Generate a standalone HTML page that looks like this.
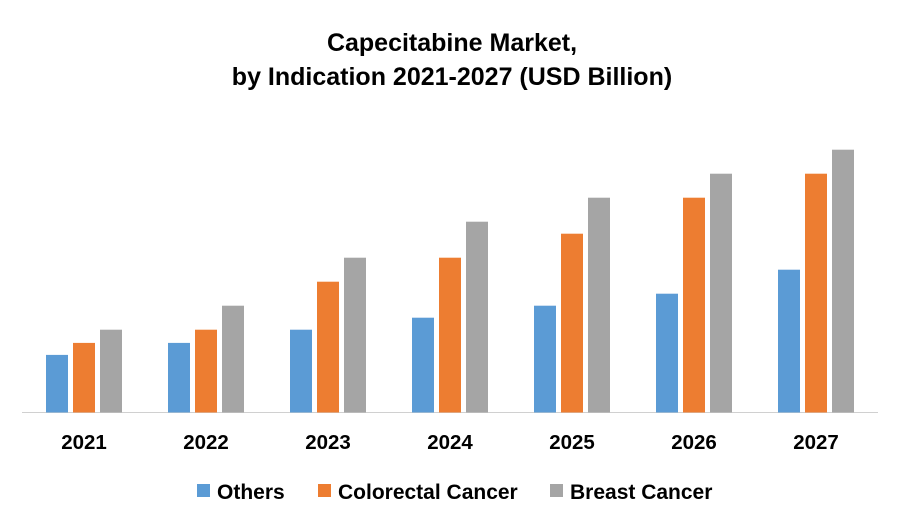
<!DOCTYPE html>
<html><head><meta charset="utf-8"><style>
body{margin:0;background:#fff;font-family:"Liberation Sans",sans-serif;}
svg text{font-family:"Liberation Sans",sans-serif;font-weight:bold;fill:#000;}
</style></head><body>
<svg id="chart" width="900" height="525" xmlns="http://www.w3.org/2000/svg">
<text x="452" y="51" text-anchor="middle" font-size="25">Capecitabine Market,</text>
<text x="452" y="85" text-anchor="middle" font-size="25">by Indication 2021-2027 (USD Billion)</text>
<line x1="22" y1="412.5" x2="878" y2="412.5" stroke="#d0d0d0" stroke-width="1"/>
<g id="bars"></g>
<g id="xlabels"></g>
<g id="legend"></g>
</svg>
<script>
const categories = ["2021","2022","2023","2024","2025","2026","2027"];
const seriesNames = ["Others","Colorectal Cancer","Breast Cancer"];
const others = [4.8,5.8,6.9,7.9,8.9,9.9,11.9];
const colorectal = [5.8,6.9,10.9,12.9,14.9,17.9,19.9];
const breast = [6.9,8.9,12.9,15.9,17.9,19.9,21.9];
const colors = ["#5b9bd5","#ed7d31","#a5a5a5"];
const series=[others,colorectal,breast];
const base=412.5, pxPerUnit=12;
function yScale(v){return base - v*pxPerUnit;}
function xCenter(i){return 84 + i*122;}
const ns="http://www.w3.org/2000/svg";
const bars=document.getElementById('bars');
series.forEach((s,si)=>{s.forEach((v,i)=>{
  const r=document.createElementNS(ns,'rect');
  r.setAttribute('x',xCenter(i)-38+si*27);
  r.setAttribute('y',yScale(v));
  r.setAttribute('width',22);
  r.setAttribute('height',base-yScale(v));
  r.setAttribute('fill',colors[si]);
  
  
  bars.appendChild(r);
});});
const xl=document.getElementById('xlabels');
categories.forEach((c,i)=>{
  const t=document.createElementNS(ns,'text');
  t.setAttribute('x',xCenter(i));t.setAttribute('y',449);
  t.setAttribute('text-anchor','middle');t.setAttribute('font-size','20.5');
  t.textContent=c;
  
  
  xl.appendChild(t);
});
const lg=document.getElementById('legend');
const lx=[197,318,550];
seriesNames.forEach((n,i)=>{
  const g=document.createElementNS(ns,'g');
  
  
  const r=document.createElementNS(ns,'rect');
  r.setAttribute('x',lx[i]);r.setAttribute('y',484);r.setAttribute('width',13);r.setAttribute('height',13);r.setAttribute('fill',colors[i]);
  const t=document.createElementNS(ns,'text');
  t.setAttribute('x',lx[i]+20);t.setAttribute('y',499);t.setAttribute('font-size','21');
  t.textContent=n;
  g.appendChild(r);g.appendChild(t);lg.appendChild(g);
});
</script>
</body></html>
